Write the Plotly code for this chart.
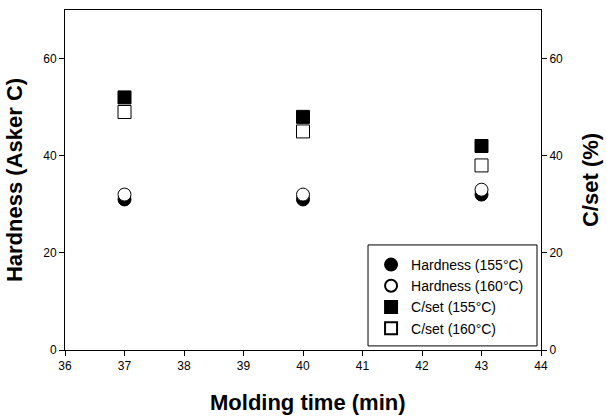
import plotly.graph_objects as go

time_min = [37, 40, 43]
hardness_155 = [31, 31, 32]
hardness_160 = [32, 32, 33]
cset_155 = [52, 48, 42]
cset_160 = [49, 45, 38]

fig = go.Figure()

fig.add_trace(go.Scatter(
    x=time_min, y=hardness_155, mode="markers", name="Hardness (155\u00b0C)",
    marker=dict(symbol="circle", size=13, color="black", line=dict(color="black", width=1))
))
fig.add_trace(go.Scatter(
    x=time_min, y=hardness_160, mode="markers", name="Hardness (160\u00b0C)",
    marker=dict(symbol="circle", size=13, color="white", line=dict(color="black", width=1))
))
fig.add_trace(go.Scatter(
    x=time_min, y=cset_155, mode="markers", name="C/set (155\u00b0C)", yaxis="y2",
    marker=dict(symbol="square", size=13, color="black", line=dict(color="black", width=1))
))
fig.add_trace(go.Scatter(
    x=time_min, y=cset_160, mode="markers", name="C/set (160\u00b0C)", yaxis="y2",
    marker=dict(symbol="square", size=13, color="white", line=dict(color="black", width=1))
))

axis_font = dict(family="Liberation Sans, Arial", size=12, color="black")
title_font = dict(family="Liberation Sans, Arial", size=22, color="black")

fig.update_layout(
    width=607, height=418,
    margin=dict(l=65, r=66, t=10, b=68, autoexpand=False),
    paper_bgcolor="white", plot_bgcolor="white",
    font=axis_font,
    xaxis=dict(
        range=[36, 44], dtick=1, showgrid=False, zeroline=False, automargin=False,
        showline=True, linecolor="black", linewidth=1, mirror=True,
        ticks="outside", ticklen=5, tickcolor="black", tickfont=axis_font,
    ),
    yaxis=dict(
        range=[0, 70], tickvals=[0, 20, 40, 60], showgrid=False, zeroline=False,
        automargin=False,
        showline=True, linecolor="black", linewidth=1,
        ticks="outside", ticklen=5, tickcolor="black", tickfont=axis_font,
    ),
    yaxis2=dict(
        range=[0, 70], tickvals=[0, 20, 40, 60], showgrid=False, zeroline=False,
        overlaying="y", side="right", automargin=False,
        showline=True, linecolor="black", linewidth=1,
        ticks="outside", ticklen=5, tickcolor="black", tickfont=axis_font,
    ),
    legend=dict(
        x=0.643, y=0.297, xanchor="left", yanchor="top",
        borderwidth=0, bgcolor="rgba(0,0,0,0)",
        font=dict(family="Liberation Sans, Arial", size=14, color="black"),
        itemsizing="constant",
    ),
    showlegend=True,
)

# legend frame (taller than plotly's own legend box)
fig.add_shape(type="rect", xref="paper", yref="paper",
              x0=0.6366, x1=0.9916, y0=0.012, y1=0.309,
              line=dict(color="black", width=1), fillcolor="white", layer="below")

fig.add_annotation(text="<b>Molding time (min)</b>", xref="paper", yref="paper",
                   x=0.51, y=-0.153, xanchor="center", yanchor="middle",
                   showarrow=False, font=title_font)
fig.add_annotation(text="<b>Hardness (Asker C)</b>", xref="paper", yref="paper",
                   x=-0.107, y=0.5, xanchor="center", yanchor="middle", textangle=-90,
                   showarrow=False, font=title_font)
fig.add_annotation(text="<b>C/set (%)</b>", xref="paper", yref="paper",
                   x=1.103, y=0.5, xanchor="center", yanchor="middle", textangle=-90,
                   showarrow=False, font=title_font)

fig.write_html("out.html", config={"displayModeBar": False},
               post_script="document.body.style.margin='0';")
